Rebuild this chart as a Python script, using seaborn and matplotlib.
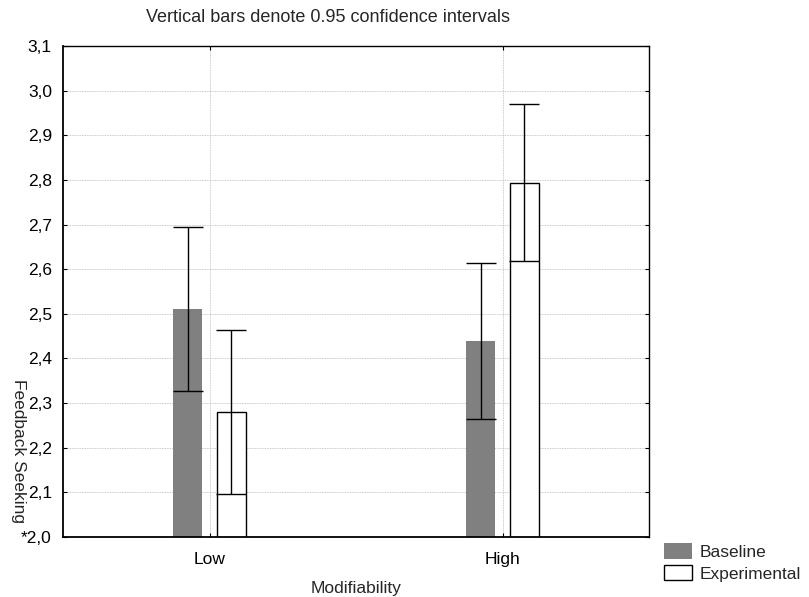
import matplotlib
matplotlib.use("Agg")
import matplotlib.pyplot as plt
import seaborn as sns
import pandas as pd
from matplotlib.ticker import FuncFormatter, MultipleLocator

# Group means and 95% CI half-widths of feedback seeking
modifiability = ["Low", "High"]
conditions = ["Baseline", "Experimental"]
baseline_mean = [2.511, 2.439]
experimental_mean = [2.280, 2.794]
baseline_ci = [0.184, 0.175]
experimental_ci = [0.184, 0.175]

df = pd.DataFrame({
    "Modifiability": modifiability * 2,
    "Condition": [conditions[0]] * 2 + [conditions[1]] * 2,
    "Feedback Seeking": baseline_mean + experimental_mean,
    "CI": baseline_ci + experimental_ci,
})

sns.set_style("white")
plt.rcParams["font.family"] = ["Liberation Sans", "DejaVu Sans"]
FS = 12.5

fig = plt.figure(figsize=(8.09, 5.97), dpi=100)
ax = fig.add_axes([63 / 809, 60 / 597, 586 / 809, 491 / 597])

palette = {"Baseline": "#808080", "Experimental": "white"}
sns.barplot(data=df, x="Modifiability", y="Feedback Seeking", hue="Condition",
            order=modifiability, hue_order=conditions, palette=palette,
            width=0.3, gap=0.333, errorbar=None, ax=ax, legend=False)

# style bars and add confidence interval whiskers
for cond, cont in zip(conditions, ax.containers):
    sub = df[df["Condition"] == cond].set_index("Modifiability").loc[modifiability]
    for patch in cont.patches:
        if cond == "Experimental":
            patch.set_edgecolor("black")
            patch.set_linewidth(1.0)
        else:
            patch.set_edgecolor("none")
    xs = [p.get_x() + p.get_width() / 2 for p in cont.patches]
    ax.errorbar(xs, sub["Feedback Seeking"].values, yerr=sub["CI"].values,
                fmt="none", ecolor="black", elinewidth=1.0, capsize=10.8,
                capthick=1.0, zorder=5)

ax.set_ylim(2.0, 3.1)
ax.set_xlim(-0.5, 1.5)
ax.yaxis.set_major_locator(MultipleLocator(0.1))


def fmt(v, pos):
    s = f"{v:.1f}".replace(".", ",")
    if abs(v - 2.0) < 1e-9:
        return "*" + s
    return s


ax.yaxis.set_major_formatter(FuncFormatter(fmt))
ax.grid(True, which="major", color="#b8b8b8", linestyle=(0, (1, 1)), linewidth=0.6)
ax.set_axisbelow(True)
for side in ["left", "right", "top", "bottom"]:
    ax.spines[side].set_visible(True)
    ax.spines[side].set_color("black")
    ax.spines[side].set_linewidth(1.0)
ax.spines["left"].set_linewidth(1.3)
ax.spines["bottom"].set_linewidth(1.3)
ax.tick_params(axis="both", direction="in", length=3, width=0.8, colors="black",
               labelsize=FS, right=True, top=True, left=True, bottom=True)
ax.tick_params(axis="y", pad=8)
ax.tick_params(axis="x", pad=11)
ax.set_xlabel("")
ax.set_ylabel("")

fig.text(356 / 809, 1 - 588 / 597, "Modifiability", ha="center", va="center", fontsize=FS)
fig.text(18 / 809, 1 - 451 / 597, "Feedback Seeking", rotation=270,
         ha="center", va="center", fontsize=FS)
fig.text(328 / 809, 1 - 18 / 597, "Vertical bars denote 0.95 confidence intervals",
         ha="center", va="center", fontsize=13)

# legend below the right side of the plot area
handles = [plt.Rectangle((0, 0), 1, 1, facecolor="#808080", edgecolor="none"),
           plt.Rectangle((0, 0), 1, 1, facecolor="white", edgecolor="black", linewidth=1.0)]
fig.legend(handles, conditions, loc="upper left",
           bbox_to_anchor=(664 / 809, 1 - 543 / 597), frameon=False,
           borderpad=0, borderaxespad=0, handlelength=1.6, handleheight=1.0,
           handletextpad=0.45, labelspacing=0.3, fontsize=FS)

fig.savefig("out.png", dpi=100)
